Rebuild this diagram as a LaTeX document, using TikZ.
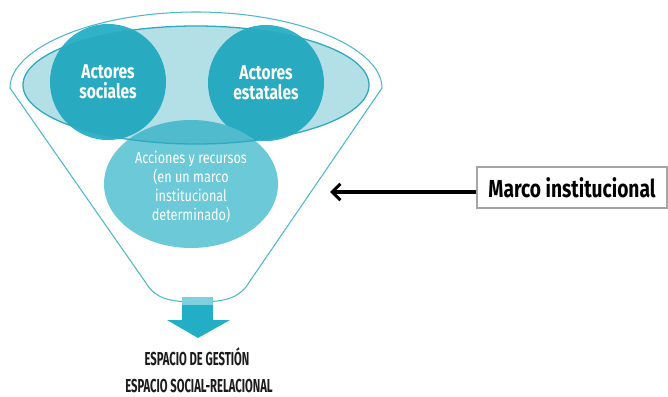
\documentclass[tikz,border=0pt]{standalone}
\usepackage{fontspec}
\setmainfont{Fira Sans}
\newfontfamily\condA{Fira Sans}[FakeStretch=0.78]
\newfontfamily\condB{Fira Sans}[FakeStretch=0.8]
\newfontfamily\condC{Fira Sans}[FakeStretch=0.6]
\usetikzlibrary{arrows.meta,shapes.geometric}
\definecolor{circfill}{HTML}{30B2C8}
\definecolor{accfill}{HTML}{6CC9D8}
\definecolor{ovfill}{HTML}{1A9FB5}
\definecolor{rimline}{HTML}{2FA9BE}
\definecolor{funline}{HTML}{4DB9CA}
\definecolor{arrowdark}{HTML}{22AEC4}
\definecolor{arrowlight}{HTML}{7FD0DC}
\definecolor{boxline}{HTML}{A5A5A5}
\definecolor{txtdark}{HTML}{1C1C1C}
\tikzset{
  actorshape/.style={circle, fill=circfill, draw=none, minimum size=3.48cm, inner sep=0pt},
  accshape/.style={ellipse, fill=accfill, draw=none, minimum width=5.22cm, minimum height=3.84cm, inner sep=0pt},
  whitetxt/.style={text=white, align=center, font=\condA\bfseries\fontsize{17}{17.5}\selectfont},
  acctxt/.style={text=white, align=center, font=\condB\fontsize{13.5}{16.2}\selectfont},
  funnel/.style={draw=funline, line width=0.9pt},
  rim/.style={draw=rimline, line width=1.1pt},
  marcobox/.style={draw=boxline, line width=1.6pt, fill=white, minimum width=5.7cm, minimum height=1.23cm, inner sep=0pt,
     font=\condA\bfseries\fontsize{21}{22}\selectfont, text=black},
  bottomtxt/.style={text=txtdark, font=\condC\bfseries\fontsize{16}{16}\selectfont},
  bigarrow/.style={draw=black, line width=2.6pt, -{Straight Barb[length=7pt,width=14pt,line width=2.6pt]}}
}
\begin{document}
\begin{tikzpicture}[x=0.03cm,y=-0.03cm]
\useasboundingbox (0,0) rectangle (668,397);
\fill[white] (0,0) rectangle (668,397);
% shapes
\node[actorshape] (socC) at (108,82) {};
\node[actorshape] (estC) at (266,83) {};
\node[accshape] (accC) at (191,184) {};
% translucent top ellipse
\fill[ovfill, opacity=0.33] (196,85) ellipse [x radius=173, y radius=59];
\draw[rim] (196,85) ellipse [x radius=173, y radius=59];
% funnel outline
\draw[funnel] (10,88) .. controls (10,48) and (94,12) .. (196,12)
   .. controls (298,12) and (382,48) .. (382,88)
   -- (250,281) .. controls (240,298) and (226,302) .. (197,302)
   .. controls (168,302) and (155,298) .. (146,283) -- cycle;
% bottom arrow
\fill[arrowdark] (182,305) rectangle (213,321);
\fill[arrowdark] (167,320) -- (230,320) -- (198,338) -- cycle;
\fill[arrowlight] (182,297) rectangle (213,305);
% texts
\node[whitetxt] (socT) at (socC) {Actores\\sociales};
\node[whitetxt] (estT) at (estC) {Actores\\estatales};
\node[acctxt] (accT) at (191,187) {Acciones y recursos\\(en un marco\\institucional\\determinado)};
\node[marcobox] (marco) at (572,187.5) {Marco institucional};
\coordinate (tip) at (330,192);
\draw[bigarrow] (marco.west |- tip) -- (tip);
\node[bottomtxt] (gest) at (197,357) {ESPACIO DE GESTIÓN};
\node[bottomtxt] (socrel) at (199,386) {ESPACIO SOCIAL-RELACIONAL};
\end{tikzpicture}
\end{document}
